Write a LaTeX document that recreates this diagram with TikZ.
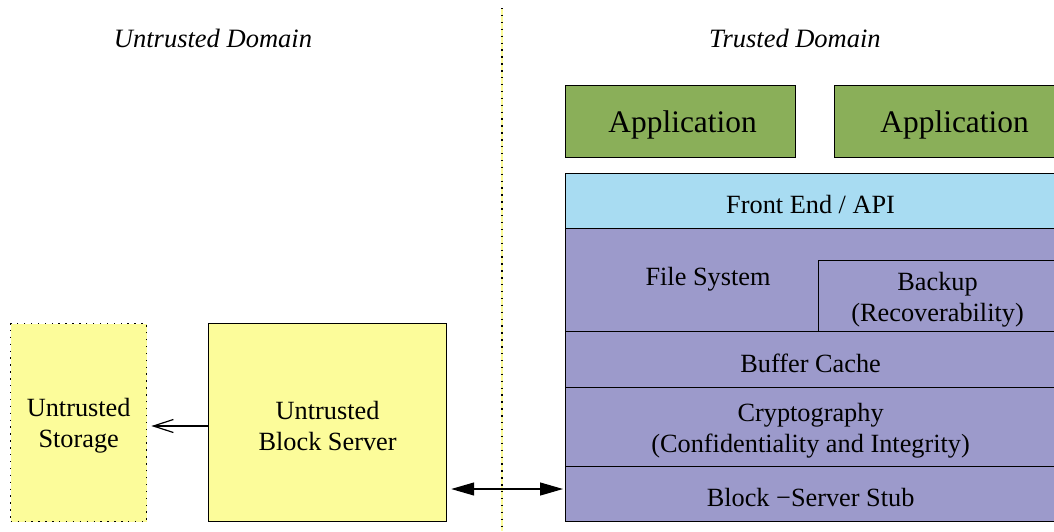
\documentclass[tikz,border=0pt]{standalone}
\usepackage{fontspec}
\setmainfont{Liberation Serif}
\usetikzlibrary{arrows.meta}

\definecolor{storeyellow}{HTML}{FCFC9A}
\definecolor{appgreen}{HTML}{8AAF59}
\definecolor{apiblue}{HTML}{A8DCF2}
\definecolor{stackviolet}{HTML}{9C9ACB}

\begin{document}
\begin{tikzpicture}[
        x=1pt,y=-1pt,
        boxtext/.style={align=center,inner sep=0pt,yshift=-3.5pt,
                        font=\fontsize{26.3}{31}\selectfont},
        box/.style={draw,line width=1.2pt,inner sep=0pt,anchor=north west,
                    label={[boxtext]center:#1}},
        ubox/.style={box={#1},fill=storeyellow},
        app/.style={box={},fill=appgreen,minimum height=72,
                    label={[boxtext,xshift=2pt,font=\fontsize{31.4}{36}\selectfont]center:#1}},
        stacklayer/.style={box={#1},fill=stackviolet,minimum width=490},
        domlabel/.style={font=\fontsize{26.5}{30}\selectfont\itshape},
        dotline/.style={line width=1.4pt,dash pattern=on 1.4pt off 5.5pt},
        ]
    \clip (0,0) rectangle (1054,531);

    % domain labels and the border between them
    \node[domlabel] (untr) at (213,38) {Untrusted Domain};
    \node[domlabel] (tr) at (795,38) {Trusted Domain};
    \coordinate (sep top) at (502,8);
    \coordinate (sep bot) at (502,531);
    \draw[storeyellow,line width=2pt] (sep top) -- (sep bot);
    \draw[dotline] (sep top) -- (sep bot);

    % untrusted side
    \node[ubox={Untrusted\\Storage},dotline,minimum width=136,minimum height=198]
        (store) at (10,323) {};
    \node[ubox={Untrusted\\Block Server},minimum width=238,minimum height=198]
        (server) at (208,323) {};

    % trusted side: applications on top of the stack
    \node[app=Application,minimum width=230] (app1) at (565,85) {};
    \node[app=Application,minimum width=236] (app2) at (834,85) {};
    \node[box={Front End / API},fill=apiblue,minimum width=490,minimum height=55]
        (api) at (565,173) {};
    \node[stacklayer={},minimum height=103] (fs) at (565,228) {};
    \node[boxtext] (fslabel) at (708,276) {File System};
    \node[stacklayer={Backup\\(Recoverability)},minimum width=238,minimum height=71]
        (backup) at (818,260) {};
    \node[stacklayer={Buffer Cache},minimum height=56] (cache) at (565,331) {};
    \node[stacklayer={Cryptography\\(Confidentiality and Integrity)},minimum height=79]
        (crypto) at (565,387) {};
    \node[stacklayer={Block −Server Stub},minimum height=55] (stub) at (565,466) {};

    % connectors
    \draw[line width=1.2pt,-{Straight Barb[length=20pt,width=13pt]}]
        (server.west |- 0,426) -- ([xshift=4pt]store.east |- 0,426);
    \draw[line width=1.2pt,{Triangle[length=23pt,width=13pt]}-{Triangle[length=23pt,width=13pt]}]
        ([xshift=4pt]server.east |- 0,489) -- ([xshift=-2pt]stub.west |- 0,489);
\end{tikzpicture}
\end{document}
